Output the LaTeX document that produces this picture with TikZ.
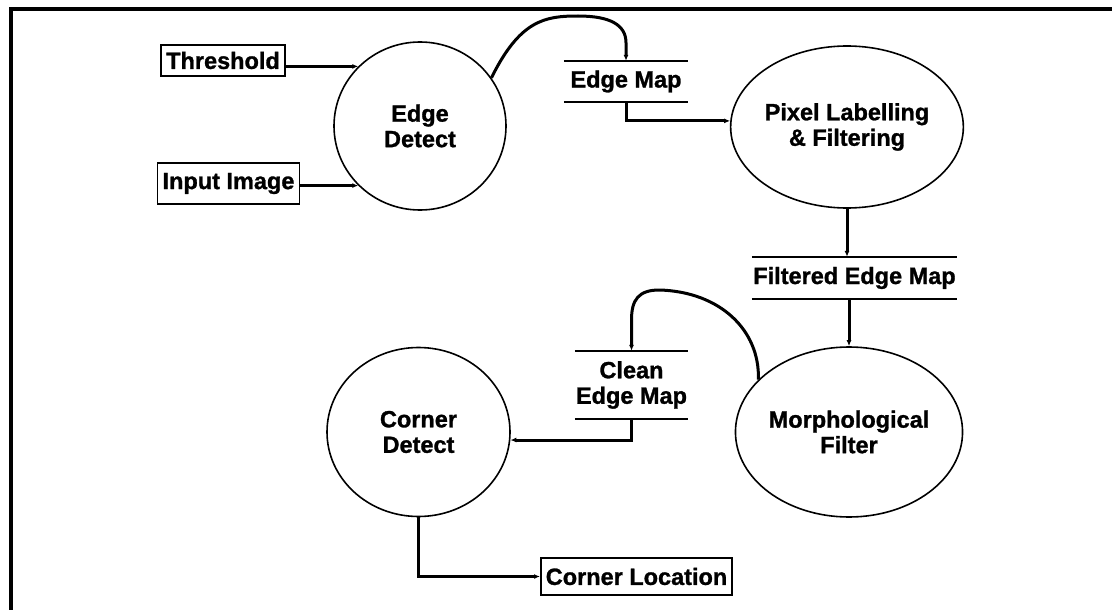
\documentclass[tikz,border=0pt]{standalone}
\usepackage{fontspec}
\setmainfont{Liberation Sans}[BoldFeatures={FakeBold=1.2}]
\usetikzlibrary{shapes.geometric,arrows.meta,calc}
\newcommand\dflbl{\fontsize{23.5pt}{25.5pt}\selectfont\bfseries}
\begin{document}
\begin{tikzpicture}[x=1pt,y=-1pt,
  proc/.style={ellipse, draw, line width=1.6pt, inner sep=0pt, align=center, font=\dflbl},
  ext/.style={rectangle, draw, line width=1.6pt, inner xsep=5pt, inner ysep=0pt, align=center, font=\dflbl},
  store/.style={rectangle, inner sep=0pt, align=center, font=\dflbl},
  storeline/.style={line width=1.8pt},
  flow/.style={line width=3pt, -{Latex[length=6pt,width=5pt]}},
  frame/.style={line width=4pt}]
\useasboundingbox (0,0) rectangle (1112,610);
% frame (top and left edges only)
\draw[frame] (11,614) -- (11,9) -- (1116,9);

% processes
\node[proc, minimum width=172pt, minimum height=168pt] (ed) at (420,126) {Edge\\Detect};
\node[proc, minimum width=171pt, minimum height=162pt] (pl) at (847,127) {Pixel Labelling\\\& Filtering};
\node[proc, minimum width=174pt, minimum height=170pt] (mf) at (849,432) {Morphological\\Filter};
\node[proc, minimum width=183pt, minimum height=169pt] (cd) at (418.5,432) {Corner\\Detect};

% external entities
\node[ext, minimum width=120pt, minimum height=31pt] (thr) at (223,60.5) {Threshold};
\node[ext, minimum width=141pt, minimum height=41pt] (inp) at (228.5,183.5) {Input Image};
\node[ext, minimum height=37pt, anchor=west] (cl) at (540,576.5) {Corner Location};

% data stores
\node[store, minimum width=124pt, minimum height=41pt] (em) at (626,81.5) {Edge Map};
\node[store, minimum width=205pt, minimum height=42pt] (fem) at (854.5,278) {Filtered Edge Map};
\node[store, minimum width=113pt, minimum height=68pt] (ce) at (631.5,385) {Clean\\Edge Map};
\foreach \s in {em,fem,ce}{
  \draw[storeline] (\s.north west) -- (\s.north east);
  \draw[storeline] (\s.south west) -- (\s.south east);
}

% flows
\draw[flow] (thr.east |- ed.136) -- (ed.136);
\draw[flow] (inp.east |- ed.224) -- (ed.224);
\draw[flow] (ed.34) .. controls (520,20) and (545,16) .. (578,16)
  .. controls (610,16) and ($(em.north)+(0,-36)$) .. ($(em.north)+(0,-18)$) -- (em.north);
\draw[flow] (em.south) |- (pl.177);
\draw[flow] (pl.south) -- (pl.south |- fem.north);
\draw[flow] (fem.south -| mf.north) -- (mf.north);
\draw[flow] (mf.150) .. controls (760,330) and (720,292) .. (660,290)
  .. controls ($(ce.north)+(7,-61)$) and ($(ce.north)+(0,-51)$) .. ($(ce.north)+(0,-31)$) -- (ce.north);
\draw[flow] (ce.south) |- (cd.355);
\draw[flow] (cd.south) |- (cl.west);
\end{tikzpicture}
\end{document}
